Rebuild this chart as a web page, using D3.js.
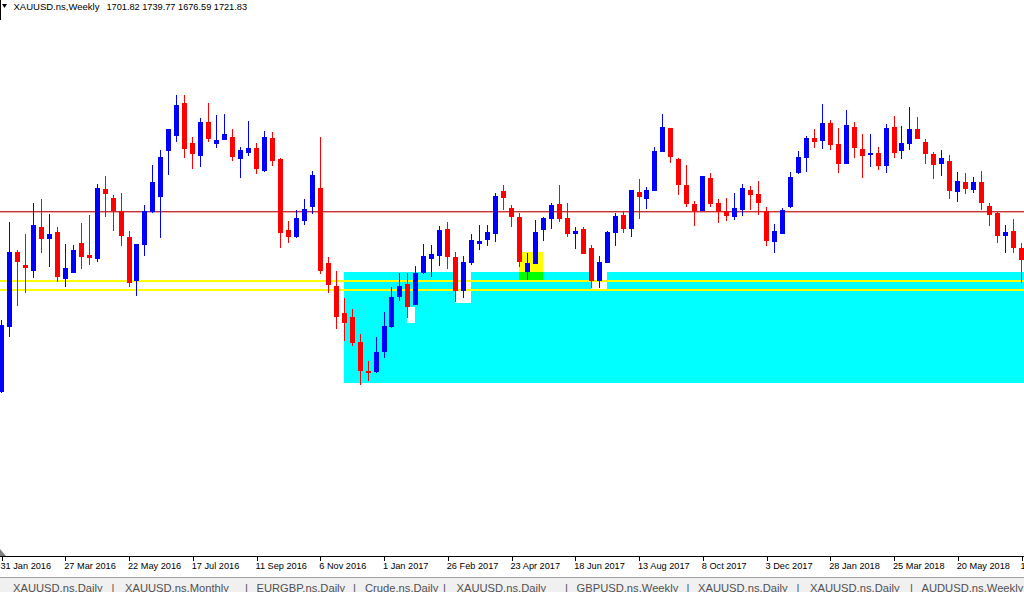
<!DOCTYPE html>
<html>
<head>
<meta charset="utf-8">
<script src="https://cdn.jsdelivr.net/npm/d3@7"></script>
<style>
  html, body { margin: 0; padding: 0; background: #ffffff; }
  svg { display: block; }
  text { font-family: "Liberation Sans", Arial, sans-serif; }
</style>
</head>
<body>
<svg id="chart" width="1024" height="592"></svg>
<script>
// ---------------- DATA ----------------
const symbolTitle = "XAUUSD.ns,Weekly";
const headerValues = "1701.82 1739.77 1676.59 1721.83";

const openP = [1008,1073,1148,1135,1129,1173,1161,1168,1121,1127,1157,1145,1141,1211,1202,1189,1163,1119,1155,1188,
1203,1249,1264,1297,1257,1244,1278,1256,1260,1263,1241,1247,1252,1229,1262,1241,1170,1163,1179,1193,
1212,1137,1114,1087,1083,1058,1029,1028,1048,1073,1103,1116,1095,1127,1141,1144,1171,1143,1109,1137,
1156.5,1160,1166,1209,1192,1183,1128,1136,1170,1181,1196,1182,1166,1171,1152,1119,1137,1167,1185,1171,
1208,1201,1209,1248,1272,1241,1215,1196,1189,1222,1197,1189,1183,1190,1210,1206,1189,1158,1166,1193,
1227,1242,1262,1259,1277,1256,1236,1273,1251,1245.5,1247,1234,1273,1249,1256,1271,1258,1246,1236,1239,
1208,1218,1210,1218,1194,1187,1164,1169,1152];
const highP = [1080,1178,1150,1166,1197,1201,1186,1173,1156,1155,1177,1185,1216,1224,1205,1207,1169,1156,1195,1235,
1250,1271,1305,1305,1263,1282,1297,1285,1286,1271,1253,1279,1257,1269,1268,1242,1179,1190,1201,1229,
1263,1143,1129,1102,1091,1066,1039,1063,1088,1113,1127,1127,1134,1156,1155,1174,1178,1148,1144,1166,
1175,1175,1207,1215,1195,1187,1147,1180,1183,1197,1215,1197,1173,1173,1155,1144,1169,1187,1189,1210,
1221,1213,1253,1286,1272,1242,1235,1199,1224,1227,1201,1202,1207,1216,1214,1219,1193,1176,1192,1228,
1249,1264,1271,1296,1280,1272,1290,1278,1266,1266,1253,1276,1284,1274,1293,1283,1261,1248,1250,1245,
1228,1227,1223,1229,1197,1188,1175,1181,1157];
const lowP = [1007,1063,1094,1107,1122,1147,1133,1118,1113,1127,1131,1135,1138,1183,1169,1154,1113,1104,1144,1187,
1162,1225,1258,1242,1231,1233,1258,1252,1260,1239,1222,1244,1226,1228,1234,1152,1157,1162,1175,1186,
1126,1107,1071,1059,1054,1015,1019,1027,1042,1072,1099,1082,1095,1126,1123,1134,1131,1098,1102,1135,
1150,1154,1158,1190,1173,1133,1120,1136,1159,1171,1178,1163,1151,1146,1112,1112,1137,1154,1167,1163,
1181,1191,1209,1248,1237,1205,1193,1174,1189,1193,1177,1179,1180,1184,1190,1185,1154,1147,1166,1192,
1226,1228,1252,1251,1250,1227,1236,1242,1222,1233,1230,1227,1242,1241,1250,1261,1236,1221,1224,1201,
1198,1206,1207,1190,1174,1157,1147,1147,1117];
const closeP = [1075,1148,1138,1132,1175,1161,1166,1123,1132,1150,1143,1142,1212,1206,1189,1164,1117,1156,1189,1218,
1243,1271,1295,1251,1246,1278,1261,1260,1266,1243,1250,1252,1231,1263,1239,1167,1163,1182,1191,1225,
1129,1115,1083,1077,1057,1029,1027,1048,1074,1103,1114,1093,1127,1144,1146,1170,1143,1109,1138,1160,
1159,1168,1204,1202,1183,1138,1137,1168,1182,1195,1181,1166,1169,1146,1119,1138,1168,1184,1171,1210,
1203,1210,1249,1273,1243,1215,1196,1189,1224,1196,1188,1184,1192,1212,1205,1197,1159,1169,1190,1223,
1243,1262,1258,1277,1255,1236,1275,1252,1244,1246.5,1234,1272,1247,1257,1271,1261,1246,1235,1242,1209,
1219,1211,1218,1197,1185,1164,1168,1152,1140];

const tickLabels = ["31 Jan 2016","27 Mar 2016","22 May 2016","17 Jul 2016","11 Sep 2016","6 Nov 2016",
  "1 Jan 2017","26 Feb 2017","23 Apr 2017","18 Jun 2017","13 Aug 2017","8 Oct 2017","3 Dec 2017",
  "28 Jan 2018","25 Mar 2018","20 May 2018","15 Jul 2018"];

// horizontal levels (price)
const redLevel = 1189.5;
const yellowLevels = [1119, 1109.8];
// zones: [startBar, endBar(null = to right edge), topPrice, bottomPrice, colour]
const zoneStart = [43, 51, 57, 74, 65, 65];
const zoneEnd   = [null, 52, 59, 76, 68, 68];
const zoneTop   = [1127.7, 1093.3, 1130, 1130, 1148.3, 1127.7];
const zoneBot   = [1016.7, 1076.7, 1097.3, 1111, 1127.7, 1120];
const zoneColor = ["#00ffff", "#ffffff", "#ffffff", "#ffffff", "#ffff00", "#00ff00"];

const tabNames = ["XAUUSD.ns,Daily","XAUUSD.ns,Monthly","EURGBP.ns,Daily","Crude.ns,Daily","XAUUSD.ns,Daily",
  "GBPUSD.ns,Weekly","XAUUSD.ns,Daily","XAUUSD.ns,Daily","AUDUSD.ns,Weekly"];

// ---------------- CHART ----------------
const W = 1024, H = 592;
const svg = d3.select("#chart");
svg.append("rect").attr("width", W).attr("height", H).attr("fill", "#ffffff");

const n = openP.length;
const dates = d3.range(n).map(i => d3.timeWeek.offset(new Date(2016, 0, 31), i));
const candles = dates.map((d, i) => ({ date: d, o: openP[i], h: highP[i], l: lowP[i], c: closeP[i] }));

const x = d3.scaleTime().domain([dates[0], dates[n - 1]]).range([1, 1021]);
const y = d3.scaleLinear().domain([844, 1400]).range([556, 0]);
const cx = i => Math.round(x(dates[i]));

const plot = svg.append("g").attr("shape-rendering", "crispEdges");

// zones
plot.selectAll("rect.zone").data(zoneStart).join("rect")
  .attr("class", "zone")
  .attr("x", (s, k) => cx(s))
  .attr("y", (s, k) => Math.round(y(zoneTop[k])))
  .attr("width", (s, k) => (zoneEnd[k] === null ? W : cx(zoneEnd[k])) - cx(s))
  .attr("height", (s, k) => Math.round(y(zoneBot[k])) - Math.round(y(zoneTop[k])))
  .attr("fill", (s, k) => zoneColor[k]);

// horizontal lines
plot.selectAll("rect.yl").data(yellowLevels).join("rect")
  .attr("class", "yl")
  .attr("x", 0).attr("width", W)
  .attr("y", d => Math.round(y(d)) - 1).attr("height", 2)
  .attr("fill", "#ffff00");
plot.append("rect")
  .attr("x", 0).attr("width", W)
  .attr("y", Math.round(y(redLevel))).attr("height", 1)
  .attr("fill", "#c83232");
plot.append("rect")
  .attr("x", 0).attr("width", W)
  .attr("y", Math.round(y(redLevel)) + 1).attr("height", 1)
  .attr("fill", "#eeaaaa");

// candles
const cg = plot.selectAll("g.candle").data(candles).join("g").attr("class", "candle")
  .attr("fill", d => d.c >= d.o ? "#0000ff" : "#ff0000");
cg.append("rect")
  .attr("x", (d, i) => cx(i))
  .attr("y", d => Math.round(y(d.h)))
  .attr("width", 1)
  .attr("height", d => Math.max(1, Math.round(y(d.l)) - Math.round(y(d.h))));
cg.append("rect")
  .attr("x", (d, i) => cx(i) - 2)
  .attr("y", d => Math.round(y(Math.max(d.o, d.c))))
  .attr("width", 5)
  .attr("height", d => Math.max(1, Math.round(y(Math.min(d.o, d.c))) - Math.round(y(Math.max(d.o, d.c)))));

// left border
svg.append("rect").attr("x", 0).attr("y", 0).attr("width", 1).attr("height", 20).attr("fill", "#000");

// x axis
const axisY = 556;
svg.append("rect").attr("x", 0).attr("y", axisY).attr("width", W).attr("height", 1).attr("fill", "#000")
  .attr("shape-rendering", "crispEdges");
svg.append("path").attr("d", `M0,${axisY - 7}L0,${axisY}L6,${axisY}Z`).attr("fill", "#808080");

const tickIdx = tickLabels.map((t, k) => k * 8);
const axis = d3.axisBottom(x)
  .tickValues(tickIdx.map(i => dates[i]))
  .tickFormat((d, k) => tickLabels[k])
  .tickSize(4)
  .tickSizeOuter(0);
const ax = svg.append("g").attr("transform", `translate(0,${axisY + 1})`).call(axis);
ax.select(".domain").remove();
ax.selectAll(".tick line").attr("stroke", "#000").attr("shape-rendering", "crispEdges")
  .attr("transform", "translate(0.5,0)");
ax.selectAll(".tick text")
  .attr("text-anchor", "start")
  .attr("x", -1).attr("y", 12).attr("dy", 0)
  .attr("fill", "#000")
  .style("font-family", "'Liberation Sans', Arial, sans-serif")
  .style("font-size", "9.2px");

// header
svg.append("path").attr("d", "M2,4L7,4L4.5,8Z").attr("fill", "#000");
svg.append("text").attr("x", 13.5).attr("y", 10).attr("font-size", "9.5px").attr("fill", "#000").text(symbolTitle);
svg.append("text").attr("x", 106.5).attr("y", 10).attr("font-size", "9.2px").attr("fill", "#000").text(headerValues);

// tab bar
svg.append("rect").attr("x", 0).attr("y", 578).attr("width", W).attr("height", H - 578).attr("fill", "#f0f0f0");
svg.append("rect").attr("x", 0).attr("y", 577).attr("width", W).attr("height", 1).attr("fill", "#a0a0a0");
const tabX = [13, 125, 256.5, 365, 456.5, 576.5, 698, 810, 921.5];
const sepX = [111.5, 245, 353, 443, 565, 686.5, 796.5, 910];
svg.selectAll("text.tab").data(tabNames).join("text").attr("class", "tab")
  .attr("x", (d, k) => tabX[k]).attr("y", 592).attr("font-size", "11.2px").attr("fill", "#505050")
  .text(d => d);
svg.selectAll("text.sep").data(sepX).join("text").attr("class", "sep")
  .attr("x", d => d).attr("y", 592).attr("font-size", "11.2px").attr("fill", "#505050")
  .text("|");
</script>
</body>
</html>
